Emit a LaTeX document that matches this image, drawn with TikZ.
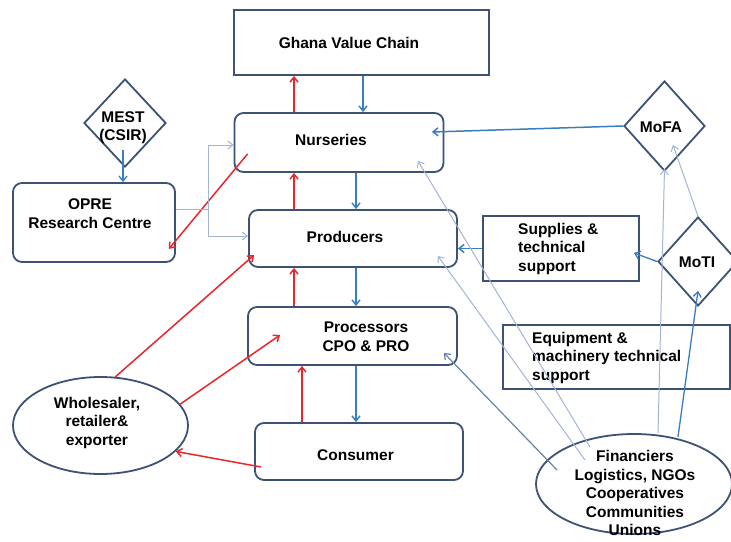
\documentclass[tikz,border=0pt]{standalone}
\usepackage{fontspec}
\setmainfont{Liberation Sans}
\usetikzlibrary{arrows.meta,shapes.geometric}
\definecolor{boxline}{HTML}{3D5275}
\definecolor{arrblue}{HTML}{3A7DC0}
\definecolor{arrlight}{HTML}{A3B5D5}
\definecolor{arrmid}{HTML}{6682B0}
\definecolor{arrred}{HTML}{E8262B}
\tikzset{
  txt/.style={font=\bfseries\fontsize{15.5}{18.5}\selectfont, align=center, text=black, inner sep=0},
  ltxt/.style={font=\bfseries\fontsize{15.5}{18.5}\selectfont, align=left, text=black, inner sep=0},
  sqbox/.style={draw=boxline, line width=1.8pt, fill=white, inner sep=0},
  rbox/.style={draw=boxline, line width=1.8pt, fill=white, rounded corners=9pt, inner sep=0},
  ell/.style={draw=boxline, line width=1.8pt, fill=white, ellipse, inner sep=0},
  dia/.style={draw=boxline, line width=1.8pt, fill=white, diamond, inner sep=0, aspect=1},
  tip/.style={-{Straight Barb[length=5pt,width=8pt]}},
  bluearr/.style={tip, draw=arrblue, line width=1.5pt},
  redarr/.style={tip, draw=arrred, line width=1.5pt},
  lightarr/.style={tip, draw=arrlight, line width=1pt},
  midarr/.style={tip, draw=arrmid, line width=1.2pt},
}
\begin{document}
\begin{tikzpicture}[x=1pt,y=-1pt]
\useasboundingbox (0,0) rectangle (731,541);
\fill[white] (0,0) rectangle (731,541);

% boxes
\node[sqbox, minimum width=255pt, minimum height=65pt] (ghana) at (361.5,42.5) {};
\node[rbox, minimum width=209pt, minimum height=59pt] (nurs) at (339,142.5) {};
\node[rbox, minimum width=208pt, minimum height=57pt] (prod) at (353,238.5) {};
\node[rbox, minimum width=209pt, minimum height=58pt] (proc) at (352.5,336) {};
\node[rbox, minimum width=208pt, minimum height=57pt] (cons) at (359,451.5) {};
\node[rbox, minimum width=162pt, minimum height=79pt] (opre) at (94,222.5) {};
\node[sqbox, minimum width=156pt, minimum height=65pt] (sup) at (561,248.5) {};
\node[sqbox, minimum width=227pt, minimum height=64pt] (equip) at (616.5,357) {};
\node[ell, minimum width=175pt, minimum height=97pt] (whole) at (100.5,425.5) {};
\node[ell, minimum width=196pt, minimum height=100pt] (fin) at (634,484) {};
\node[dia, minimum width=82pt, minimum height=88pt] (mest) at (125,123) {};
\node[dia, minimum width=81pt, minimum height=90pt] (mofa) at (664.5,126) {};
\node[dia, minimum width=80pt, minimum height=89pt] (moti) at (698,261.5) {};

% texts
\node[txt] (tghana) at (349,43) {Ghana Value Chain};
\node[txt] (tnurs) at (331,140) {Nurseries};
\node[txt] (tprod) at (345,237) {Producers};
\node[txt] (tproc) at (366,336.5) {Processors\\CPO \& PRO};
\node[txt] (tcons) at (355.5,455) {Consumer};
\node[txt] (topre) at (90,213.5) {OPRE\\Research Centre};
\node[ltxt, anchor=west] (tsup) at (518,248.5) {Supplies \&\\technical\\support};
\node[ltxt, anchor=west] (tequip) at (532,357.5) {Equipment \&\\machinery technical\\support};
\node[txt] (twhole) at (97,422.5) {Wholesaler,\\retailer\&\\exporter};
\node[txt] (tfin) at (635,493) {Financiers\\Logistics, NGOs\\Cooperatives\\Communities\\Unions};
\node[txt] (tmest) at (123,127.5) {MEST\\(CSIR)};
\node[txt] (tmofa) at (661,127) {MoFA};
\node[txt] (tmoti) at (697,262) {MoTI};

% main chain
\draw[bluearr] ([xshift=1.5pt]ghana.south) -- ([xshift=24pt]nurs.north);
\draw[redarr] ([xshift=-45pt]nurs.north) -- ([xshift=-67.5pt]ghana.south);
\draw[bluearr] ([xshift=17pt]nurs.south) -- ([xshift=3pt]prod.north);
\draw[redarr] ([xshift=-59pt]prod.north) -- ([xshift=-45pt]nurs.south);
\draw[bluearr] ([xshift=3pt]prod.south) -- ([xshift=3.5pt]proc.north);
\draw[redarr] ([xshift=-58.5pt]proc.north) -- ([xshift=-59pt]prod.south);
\draw[bluearr] ([xshift=3.5pt]proc.south) -- ([xshift=-3pt]cons.north);
\draw[redarr] ([xshift=-57pt]cons.north) -- ([xshift=-50.5pt]proc.south);

% red side arrows
\draw[redarr] ([xshift=7pt,yshift=-15.5pt]cons.west) -- (whole.-19);
\draw[redarr] (whole.15) -- ([xshift=33pt,yshift=1pt]proc.west);
\draw[redarr] (whole.73) -- ([xshift=6pt,yshift=-16.5pt]prod.west);
\draw[redarr] ([xshift=14pt,yshift=19pt]nurs.south west) -- ([xshift=-7pt,yshift=14pt]opre.south east);

% OPRE elbow
\draw[lightarr] ([yshift=13.5pt]opre.east) -- ++(33,0) |- ([yshift=-2.5pt]nurs.west);
\draw[lightarr] ([yshift=13.5pt]opre.east) -- ++(33,0) |- ([yshift=2.5pt]prod.west);

% MEST
\draw[bluearr, line width=1.3pt] ([xshift=-2pt,yshift=-27pt]mest.center) -- ([xshift=29pt]opre.north);

% right side
\draw[bluearr] (mofa.west) -- ([xshift=-12.5pt,yshift=10.5pt]nurs.east);
\draw[bluearr, line width=1.3pt] (moti.west) -- ([xshift=-6pt,yshift=-4.5pt]sup.east);
\draw[bluearr] (sup.west) -- ([yshift=-10pt]prod.east);
\draw[bluearr, line width=1.3pt] ([xshift=44pt,yshift=47pt]fin.center) -- ([yshift=16pt]moti.south);
\draw[lightarr] ([xshift=24pt,yshift=51pt]fin.center) -- ([yshift=3pt]mofa.south);
\draw[lightarr] (moti.north) -- ([xshift=8.5pt,yshift=-19pt]mofa.center);
\draw[lightarr] ([xshift=-44pt,yshift=37pt]fin.center) -- ([xshift=-26.5pt,yshift=12pt]nurs.south east);
\draw[lightarr] ([xshift=-49pt,yshift=24pt]fin.center) -- ([xshift=-20pt,yshift=12pt]prod.south east);
\draw[midarr] ([xshift=-77pt,yshift=14pt]fin.center) -- ([xshift=-14pt,yshift=13pt]proc.south east);
\end{tikzpicture}
\end{document}
